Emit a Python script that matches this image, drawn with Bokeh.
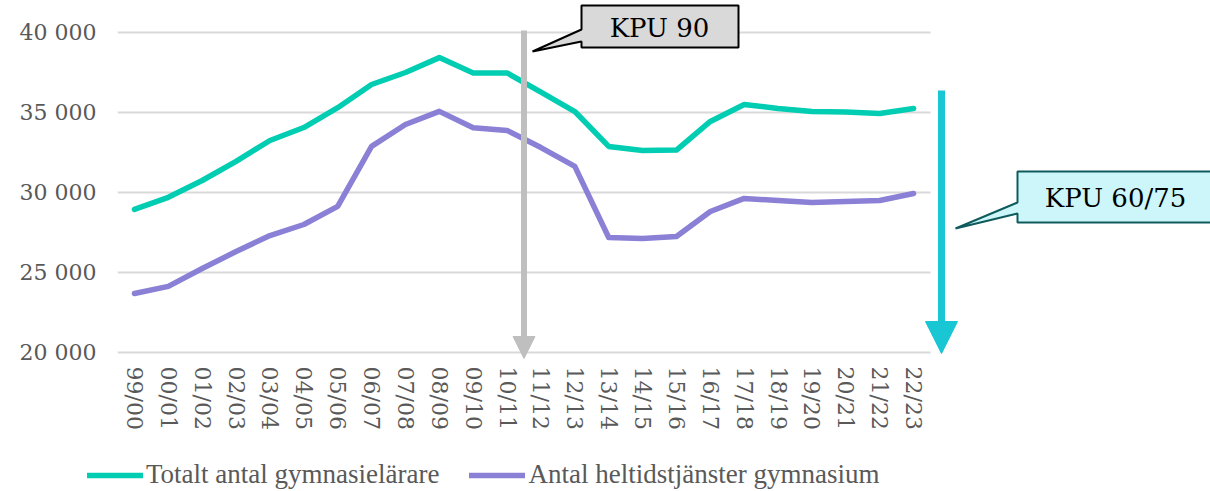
import numpy as np
from bokeh.plotting import figure
from bokeh.layouts import column
from bokeh.models import (Range1d, FixedTicker, Arrow, NormalHead, Label,
                          Legend, LegendItem)
from bokeh.embed import file_html
from bokeh.resources import INLINE

# ---------------- data ----------------
seasons = ["99/00", "00/01", "01/02", "02/03", "03/04", "04/05", "05/06",
           "06/07", "07/08", "08/09", "09/10", "10/11", "11/12", "12/13",
           "13/14", "14/15", "15/16", "16/17", "17/18", "18/19", "19/20",
           "20/21", "21/22", "22/23"]
totalt = [28950, 29700, 30750, 31950, 33250, 34060, 35300, 36750, 37500,
          38430, 37470, 37470, 36270, 35060, 32880, 32630, 32650, 34440,
          35500, 35250, 35060, 35030, 34940, 35250]
heltid = [23690, 24130, 25250, 26310, 27310, 28000, 29130, 32880, 34250,
          35070, 34050, 33880, 32810, 31630, 27190, 27130, 27250, 28810,
          29630, 29500, 29380, 29440, 29500, 29940]
series_names = ["Totalt antal gymnasielärare", "Antal heltidstjänster gymnasium"]
series_colors = ["#00CDB2", "#8A80D6"]
y_ticks = [20000, 25000, 30000, 35000, 40000]
y_tick_labels = ["20 000", "25 000", "30 000", "35 000", "40 000"]
kpu_labels = ["KPU 90", "KPU 60/75"]

# ---------------- layout ----------------
W = 1210
H_MAIN = 435
H_LEG = 56
LEFT = 117           # frame left edge
BAND = 33.875        # px per category
FRAME_BOTTOM = 362
Y_TOP = 42000
PX_PER_UNIT_Y = 16 / 1000
Y_BOTTOM = Y_TOP - FRAME_BOTTOM / PX_PER_UNIT_Y


def px(page_x):
    return (page_x - LEFT) / BAND


def py(page_y):
    return Y_TOP - page_y / PX_PER_UNIT_Y


x_end = (W - LEFT) / BAND

p = figure(width=W, height=H_MAIN, output_backend="svg", toolbar_location=None,
           x_range=Range1d(0, x_end), y_range=Range1d(Y_BOTTOM, Y_TOP),
           min_border_left=LEFT, min_border_right=0, min_border_top=0,
           min_border_bottom=H_MAIN - FRAME_BOTTOM)
p.frame_align = False
p.outline_line_color = None
p.grid.visible = False
p.background_fill_color = "white"
p.border_fill_color = "white"

xc = np.arange(len(seasons)) + 0.5
n = len(seasons)

# gridlines (only across the category area)
p.segment(x0=[0] * len(y_ticks), x1=[n] * len(y_ticks), y0=y_ticks, y1=y_ticks,
          line_color="#d9d9d9", line_width=2)

# series
line_kw = dict(line_width=5.5, line_cap="round", line_join="round")
p.line(xc, totalt, line_color=series_colors[0], **line_kw)
p.line(xc, heltid, line_color=series_colors[1], **line_kw)

# axes
TICK_FONT = "DejaVu Serif"
p.xaxis.ticker = FixedTicker(ticks=list(xc))
p.xaxis.major_label_overrides = {float(x): s for x, s in zip(xc, seasons)}
p.xaxis.major_label_orientation = "vertical"
p.yaxis.ticker = FixedTicker(ticks=y_ticks)
p.yaxis.major_label_overrides = {t: s for t, s in zip(y_ticks, y_tick_labels)}
for ax in (p.xaxis, p.yaxis):
    ax.axis_line_color = None
    ax.major_tick_line_color = None
    ax.minor_tick_line_color = None
    ax.major_tick_out = 0
    ax.major_tick_in = 0
    ax.minor_tick_out = 0
    ax.major_label_text_font = TICK_FONT
    ax.major_label_text_font_size = "22px"
    ax.major_label_text_color = "#595959"
p.xaxis.major_label_standoff = 4
p.yaxis.major_label_standoff = 21

# KPU 90 arrow (between 10/11 and 11/12)
xk = seasons.index("11/12")
p.add_layout(Arrow(end=NormalHead(size=22, fill_color="#bfbfbf", line_color="#bfbfbf"),
                   x_start=xk, y_start=py(30), x_end=xk, y_end=py(358),
                   line_color="#bfbfbf", line_width=6))
# KPU 60/75 arrow
xa = px(941)
p.add_layout(Arrow(end=NormalHead(size=32, fill_color="#19C6D3", line_color="#19C6D3"),
                   x_start=xa, y_start=py(90), x_end=xa, y_end=py(353),
                   line_color="#19C6D3", line_width=7))

# callouts
c1x = [581, 738, 738, 581, 581, 532, 581]
c1y = [5, 5, 47, 47, 41, 51, 29]
p.patch([px(v) for v in c1x], [py(v) for v in c1y], fill_color="#d9d9d9",
        line_color="black", line_width=2)
c2x = [1017, 1230, 1230, 1017, 1017, 955, 1017]
c2y = [171, 171, 222, 222, 213, 228, 202]
p.patch([px(v) for v in c2x], [py(v) for v in c2y], fill_color="#ccf6f9",
        line_color="#0e5a5c", line_width=2)

p.add_layout(Label(x=px(659), y=py(27), text=kpu_labels[0], text_align="center",
                   text_baseline="middle", text_font="DejaVu Serif",
                   text_font_size="26px", text_color="black"))
p.add_layout(Label(x=px(1115), y=py(197), text=kpu_labels[1], text_align="center",
                   text_baseline="middle", text_font="DejaVu Serif",
                   text_font_size="26px", text_color="black"))

# ---------------- legend strip ----------------
p2 = figure(width=W, height=H_LEG, output_backend="svg", toolbar_location=None,
            x_range=Range1d(0, 1), y_range=Range1d(0, 1),
            min_border=0, min_border_left=0, min_border_right=0,
            min_border_top=0, min_border_bottom=0)
p2.frame_align = False
p2.xaxis.visible = False
p2.yaxis.visible = False
p2.grid.visible = False
p2.outline_line_color = None
p2.border_fill_color = "white"
p2.background_fill_color = "white"
# same series, outside this strip's ranges: only their legend swatches show
l1 = p2.line(xc, totalt, line_color=series_colors[0], **line_kw)
l2 = p2.line(xc, heltid, line_color=series_colors[1], **line_kw)
legend = Legend(items=[LegendItem(label=series_names[0], renderers=[l1]),
                       LegendItem(label=series_names[1], renderers=[l2])],
                orientation="horizontal", location=(87, 1),
                glyph_width=56, glyph_height=20, label_standoff=3, spacing=30,
                label_text_font="Liberation Serif", label_text_font_size="27px",
                label_text_color="#595959", padding=0, margin=0,
                border_line_color=None, background_fill_alpha=0)
p2.add_layout(legend, "center")

layout = column(p, p2, spacing=0)
open("out.html", "w").write(file_html(layout, INLINE))
